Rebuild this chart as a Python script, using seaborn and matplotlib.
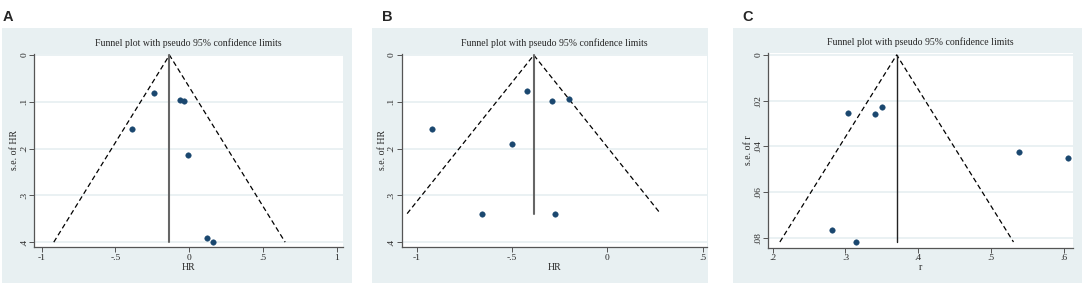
import numpy as np
import pandas as pd
import matplotlib
matplotlib.use("Agg")
import matplotlib.pyplot as plt
import seaborn as sns
from matplotlib.patches import Rectangle

# ---------------- data ----------------
a_est = [-0.236, -0.062, -0.033, -0.385, -0.010, 0.121, 0.164]
a_se = [0.080, 0.096, 0.099, 0.158, 0.213, 0.391, 0.399]
a_pooled = -0.134
a_depth = 0.400

b_est = [-0.918, -0.420, -0.290, -0.201, -0.498, -0.656, -0.276]
b_se = [0.159, 0.076, 0.098, 0.093, 0.191, 0.339, 0.339]
b_pooled = -0.386
b_depth = 0.339

c_est = [0.3035, 0.3406, 0.3498, 0.2811, 0.3145, 0.5390, 0.6060]
c_se = [0.0253, 0.0260, 0.0228, 0.0768, 0.0819, 0.0423, 0.0451]
c_pooled = 0.3704
c_depth = 0.0819

a_xticks = [-1, -0.5, 0, 0.5, 1]
a_xlabels = ["-1", "-.5", "0", ".5", "1"]
b_xticks = [-1, -0.5, 0, 0.5]
b_xlabels = ["-1", "-.5", "0", ".5"]
c_xticks = [0.2, 0.3, 0.4, 0.5, 0.6]
c_xlabels = [".2", ".3", ".4", ".5", ".6"]
hr_yticks = [0, 0.1, 0.2, 0.3, 0.4]
hr_ylabels = ["0", ".1", ".2", ".3", ".4"]
c_yticks = [0, 0.02, 0.04, 0.06, 0.08]
c_ylabels = ["0", ".02", ".04", ".06", ".08"]

title_text = "Funnel plot with pseudo 95% confidence limits"
panel_letters = ["A", "B", "C"]

# ---------------- style ----------------
sns.set_style("white")
plt.rcParams["font.family"] = ["Liberation Serif", "DejaVu Serif"]

W, H = 1084, 284
fig = plt.figure(figsize=(W / 100, H / 100), dpi=100)
fig.patch.set_facecolor("white")

BG = "#E8F0F2"
NAVY = "#1A476F"
SPINE = "#555555"

def px_rect(l, t, r, b):
    return [l / W, (H - b) / H, (r - l) / W, (b - t) / H]

panels = [
    dict(bg=(2, 28, 352, 283), ax=(34.3, 53.7, 342.7, 247.3),
         est=a_est, se=a_se, pooled=a_pooled, depth=a_depth,
         xlim=(-1.05, 1.04), ylim=(0.411, -0.003),
         xticks=a_xticks, xlabels=a_xlabels, yticks=hr_yticks, ylabels=hr_ylabels,
         xlabel="HR", ylabel="s.e. of HR", letter_xy=(3, 21), cline="#666666", clw=1.5),
    dict(bg=(372, 28, 708, 283), ax=(401.7, 53.7, 706.7, 247.3),
         est=b_est, se=b_se, pooled=b_pooled, depth=b_depth,
         xlim=(-1.079, 0.521), ylim=(0.411, -0.003),
         xticks=b_xticks, xlabels=b_xlabels, yticks=hr_yticks, ylabels=hr_ylabels,
         xlabel="HR", ylabel="s.e. of HR", letter_xy=(382, 21), cline="#666666", clw=1.5),
    dict(bg=(732.7, 28, 1082, 283), ax=(768.3, 53.3, 1073, 247.7),
         est=c_est, se=c_se, pooled=c_pooled, depth=c_depth,
         xlim=(0.194, 0.6127), ylim=(0.0844, -0.0007),
         xticks=c_xticks, xlabels=c_xlabels, yticks=c_yticks, ylabels=c_ylabels,
         xlabel="r", ylabel="s.e. of r", letter_xy=(742, 21), cline="#222222", clw=1.0),
]

for p, letter in zip(panels, panel_letters):
    l, t, r, b = p["bg"]
    fig.patches.append(Rectangle((l / W, (H - b) / H), (r - l) / W, (b - t) / H,
                                 transform=fig.transFigure, facecolor=BG,
                                 edgecolor="none", zorder=0))
    ax = fig.add_axes(px_rect(*p["ax"]))
    ax.set_facecolor("white")
    ax.set_zorder(1)

    # gridlines
    for yv in p["yticks"]:
        ax.axhline(yv, color=BG, lw=1.3, zorder=0)

    # funnel lines
    d = p["depth"]
    c = p["pooled"]
    ax.plot([c - 1.96 * d, c, c + 1.96 * d], [d, 0, d], color="black",
            lw=0.9, ls=(0, (4, 2.5)), zorder=2)
    ax.plot([c, c], [0, d], color=p["cline"], lw=p["clw"], zorder=2)

    df = pd.DataFrame({"est": p["est"], "se": p["se"]})
    sns.scatterplot(data=df, x="est", y="se", ax=ax, color=NAVY, s=16,
                    edgecolor=NAVY, linewidth=0.3, zorder=3)

    ax.set_xlim(*p["xlim"])
    ax.set_ylim(*p["ylim"])
    ax.set_xticks(p["xticks"])
    ax.set_xticklabels(p["xlabels"], fontsize=6.8)
    ax.set_yticks(p["yticks"])
    ax.set_yticklabels(p["ylabels"], fontsize=6.8, rotation=90, va="center")
    ax.tick_params(axis="both", direction="out", length=3.6, width=0.7,
                   color=SPINE, bottom=True, left=True)
    ax.tick_params(axis="x", pad=1.2)
    ax.tick_params(axis="y", pad=0.8)
    for side in ["top", "right"]:
        ax.spines[side].set_visible(False)
    for side in ["left", "bottom"]:
        ax.spines[side].set_color(SPINE)
        ax.spines[side].set_linewidth(0.9)
    ax.set_xlabel(p["xlabel"], fontsize=7, labelpad=0.5)
    ax.set_ylabel(p["ylabel"], fontsize=7, labelpad=0.5)
    ax.text(0.5, 1 + 11 / (p["ax"][3] - p["ax"][1]), title_text,
            transform=ax.transAxes, ha="center", va="center", fontsize=7.0)

    fig.text(p["letter_xy"][0] / W, (H - p["letter_xy"][1]) / H, letter,
             fontsize=10.5, fontweight="bold", family="Liberation Sans",
             ha="left", va="baseline")

fig.savefig("out.png", dpi=100)
